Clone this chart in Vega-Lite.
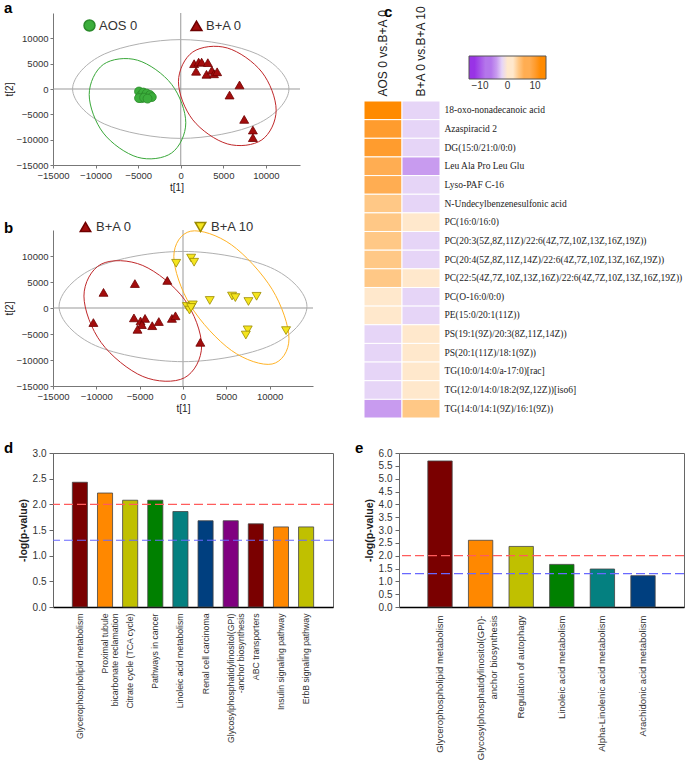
{
  "$schema": "https://vega.github.io/schema/vega-lite/v6.json",
  "background": "white",
  "padding": {"left": 3, "top": 0, "right": 0, "bottom": 0},
  "config": {
    "font": "Liberation Sans",
    "view": {"stroke": null},
    "axis": {"labelFont": "Liberation Sans", "titleFont": "Liberation Sans", "grid": false, "labelColor": "#333", "titleColor": "#222", "labelOverlap": false, "labelFlush": false},
    "title": {"anchor": "start", "frame": "group", "fontSize": 15, "fontWeight": "bold", "font": "Liberation Sans", "color": "#000", "baseline": "alphabetic"}
  },
  "spacing": 21,
  "resolve": {"scale": {"color": "independent", "fill": "independent", "shape": "independent", "stroke": "independent"}, "legend": {"color": "independent", "fill": "independent", "shape": "independent", "stroke": "independent"}},
  "vconcat": [
    {
      "spacing": 49,
      "resolve": {"scale": {"color": "independent", "fill": "independent", "shape": "independent", "stroke": "independent"}, "legend": {"color": "independent", "fill": "independent", "shape": "independent", "stroke": "independent"}},
      "hconcat": [
        {
          "spacing": 27,
          "resolve": {"scale": {"color": "independent", "fill": "independent", "shape": "independent", "stroke": "independent"}, "legend": {"color": "independent", "fill": "independent", "shape": "independent", "stroke": "independent"}},
          "vconcat": [
            {
              "width": 247, "height": 152,
              "title": {"text": "a", "dx": -49, "dy": 5, "offset": 2},
              "layer": [
                {
                  "data": {"values": [{"t1": 0}]},
                  "mark": {"type": "rule", "color": "#999", "strokeWidth": 1},
                  "encoding": {"x": {"field": "t1", "type": "quantitative", "title": "t[1]", "scale": {"domain": [-15000, 14000], "nice": false, "zero": false},
                    "axis": {"values": [-15000, -10000, -5000, 0, 5000, 10000], "format": "d", "title": "t[1]", "labelFontSize": 9.5, "labelOverlap": false, "labelFlush": false, "titleFontSize": 10, "titleFontWeight": "normal", "tickSize": 3, "labelPadding": 2, "titlePadding": 3, "domainColor": "#777", "tickColor": "#777"}}}
                },
                {
                  "data": {"values": [{"t2": 0}]},
                  "mark": {"type": "rule", "color": "#999", "strokeWidth": 1},
                  "encoding": {"y": {"field": "t2", "type": "quantitative", "title": "t[2]", "scale": {"domain": [-15000, 15000], "nice": false, "zero": false},
                    "axis": {"values": [-15000, -10000, -5000, 0, 5000, 10000], "format": "d", "title": "t[2]", "labelFontSize": 9.5, "labelOverlap": false, "labelFlush": false, "titleFontSize": 10, "titleFontWeight": "normal", "tickSize": 3, "labelPadding": 2, "titlePadding": 2, "domainColor": "#777", "tickColor": "#777"}}}
                },
                {
                  "data": {"values": [
                    {"t1": 12700, "t2": 0, "i": 0}, {"t1": 8980, "t2": 6894, "i": 1}, {"t1": 0, "t2": 9750, "i": 2}, {"t1": -8980, "t2": 6894, "i": 3},
                    {"t1": -12700, "t2": 0, "i": 4}, {"t1": -8980, "t2": -6894, "i": 5}, {"t1": 0, "t2": -9750, "i": 6}, {"t1": 8980, "t2": -6894, "i": 7}
                  ]},
                  "mark": {"type": "line", "interpolate": "cardinal-closed", "color": "#b0b0b0", "strokeWidth": 1},
                  "encoding": {
                    "x": {"field": "t1", "type": "quantitative", "title": "t[1]", "axis": {"values": [-15000, -10000, -5000, 0, 5000, 10000], "format": "d", "title": "t[1]", "labelFontSize": 9.5, "labelOverlap": false, "labelFlush": false, "titleFontSize": 10, "titleFontWeight": "normal", "tickSize": 3, "labelPadding": 2, "titlePadding": 3, "domainColor": "#777", "tickColor": "#777"}},
                    "y": {"field": "t2", "type": "quantitative", "title": "t[2]", "axis": {"values": [-15000, -10000, -5000, 0, 5000, 10000], "format": "d", "title": "t[2]", "labelFontSize": 9.5, "labelOverlap": false, "labelFlush": false, "titleFontSize": 10, "titleFontWeight": "normal", "tickSize": 3, "labelPadding": 2, "titlePadding": 2, "domainColor": "#777", "tickColor": "#777"}},
                    "order": {"field": "i", "type": "quantitative"}
                  }
                },
                {
                  "data": {"values": [
                    {"t1": 590, "t2": -6670, "i": 0}, {"t1": -1071, "t2": 915, "i": 1}, {"t1": -5080, "t2": 5685, "i": 2}, {"t1": -9089, "t2": 4847, "i": 3},
                    {"t1": -10750, "t2": -1110, "i": 4}, {"t1": -9089, "t2": -8695, "i": 5}, {"t1": -5080, "t2": -13465, "i": 6}, {"t1": -1071, "t2": -12627, "i": 7}
                  ]},
                  "mark": {"type": "line", "interpolate": "cardinal-closed", "color": "#3aa83a", "strokeWidth": 1},
                  "encoding": {
                    "x": {"field": "t1", "type": "quantitative", "title": "t[1]", "axis": {"values": [-15000, -10000, -5000, 0, 5000, 10000], "format": "d", "title": "t[1]", "labelFontSize": 9.5, "labelOverlap": false, "labelFlush": false, "titleFontSize": 10, "titleFontWeight": "normal", "tickSize": 3, "labelPadding": 2, "titlePadding": 3, "domainColor": "#777", "tickColor": "#777"}},
                    "y": {"field": "t2", "type": "quantitative", "title": "t[2]", "axis": {"values": [-15000, -10000, -5000, 0, 5000, 10000], "format": "d", "title": "t[2]", "labelFontSize": 9.5, "labelOverlap": false, "labelFlush": false, "titleFontSize": 10, "titleFontWeight": "normal", "tickSize": 3, "labelPadding": 2, "titlePadding": 2, "domainColor": "#777", "tickColor": "#777"}},
                    "order": {"field": "i", "type": "quantitative"}
                  }
                },
                {
                  "data": {"values": [
                    {"t1": 11200, "t2": -4170, "i": 0}, {"t1": 9520, "t2": 3342, "i": 1}, {"t1": 5465, "t2": 8094, "i": 2}, {"t1": 1410, "t2": 7302, "i": 3},
                    {"t1": -270, "t2": 1430, "i": 4}, {"t1": 1410, "t2": -6082, "i": 5}, {"t1": 5465, "t2": -10834, "i": 6}, {"t1": 9520, "t2": -10042, "i": 7}
                  ]},
                  "mark": {"type": "line", "interpolate": "cardinal-closed", "color": "#c0282a", "strokeWidth": 1},
                  "encoding": {
                    "x": {"field": "t1", "type": "quantitative", "title": "t[1]", "axis": {"values": [-15000, -10000, -5000, 0, 5000, 10000], "format": "d", "title": "t[1]", "labelFontSize": 9.5, "labelOverlap": false, "labelFlush": false, "titleFontSize": 10, "titleFontWeight": "normal", "tickSize": 3, "labelPadding": 2, "titlePadding": 3, "domainColor": "#777", "tickColor": "#777"}},
                    "y": {"field": "t2", "type": "quantitative", "title": "t[2]", "axis": {"values": [-15000, -10000, -5000, 0, 5000, 10000], "format": "d", "title": "t[2]", "labelFontSize": 9.5, "labelOverlap": false, "labelFlush": false, "titleFontSize": 10, "titleFontWeight": "normal", "tickSize": 3, "labelPadding": 2, "titlePadding": 2, "domainColor": "#777", "tickColor": "#777"}},
                    "order": {"field": "i", "type": "quantitative"}
                  }
                },
                {
                  "data": {"values": [
                    {"group": "AOS 0", "t1": -4900, "t2": -500}, {"group": "AOS 0", "t1": -4700, "t2": -1300}, {"group": "AOS 0", "t1": -4600, "t2": -1800},
                    {"group": "AOS 0", "t1": -4400, "t2": -700}, {"group": "AOS 0", "t1": -4200, "t2": -1400}, {"group": "AOS 0", "t1": -4000, "t2": -900},
                    {"group": "AOS 0", "t1": -3800, "t2": -1700}, {"group": "AOS 0", "t1": -3600, "t2": -1200}, {"group": "AOS 0", "t1": -3400, "t2": -1600},
                    {"group": "AOS 0", "t1": -4900, "t2": -1800}, {"group": "AOS 0", "t1": -4300, "t2": -1700}, {"group": "AOS 0", "t1": -3900, "t2": -1900},
                    {"group": "B+A 0", "t1": 1570, "t2": 5000}, {"group": "B+A 0", "t1": 2100, "t2": 5300}, {"group": "B+A 0", "t1": 2450, "t2": 5300},
                    {"group": "B+A 0", "t1": 1800, "t2": 3500}, {"group": "B+A 0", "t1": 3180, "t2": 5200}, {"group": "B+A 0", "t1": 3020, "t2": 2900},
                    {"group": "B+A 0", "t1": 3650, "t2": 3700}, {"group": "B+A 0", "t1": 3900, "t2": 3000}, {"group": "B+A 0", "t1": 4270, "t2": 3400},
                    {"group": "B+A 0", "t1": 5730, "t2": -1200}, {"group": "B+A 0", "t1": 6900, "t2": 800}, {"group": "B+A 0", "t1": 7450, "t2": -6000},
                    {"group": "B+A 0", "t1": 8470, "t2": -8100}, {"group": "B+A 0", "t1": 8470, "t2": -9600}
                  ]},
                  "mark": {"type": "point", "filled": true, "size": 80, "strokeWidth": 0.8, "opacity": 1},
                  "encoding": {
                    "x": {"field": "t1", "type": "quantitative", "title": "t[1]", "scale": {"domain": [-15000, 14000], "nice": false, "zero": false},
                      "axis": {"values": [-15000, -10000, -5000, 0, 5000, 10000], "format": "d", "title": "t[1]", "labelFontSize": 9.5, "labelOverlap": false, "labelFlush": false, "titleFontSize": 10, "titleFontWeight": "normal", "tickSize": 3, "labelPadding": 2, "titlePadding": 3, "domainColor": "#777", "tickColor": "#777"}},
                    "y": {"field": "t2", "type": "quantitative", "title": "t[2]", "scale": {"domain": [-15000, 15000], "nice": false, "zero": false},
                      "axis": {"values": [-15000, -10000, -5000, 0, 5000, 10000], "format": "d", "title": "t[2]", "labelFontSize": 9.5, "labelOverlap": false, "labelFlush": false, "titleFontSize": 10, "titleFontWeight": "normal", "tickSize": 3, "labelPadding": 2, "titlePadding": 2, "domainColor": "#777", "tickColor": "#777"}},
                    "shape": {"field": "group", "type": "nominal", "scale": {"domain": ["AOS 0", "B+A 0"], "range": ["circle", "triangle-up"]},
                      "legend": {"orient": "none", "legendX": 30, "legendY": 6, "direction": "horizontal", "title": null, "labelFontSize": 13, "labelColor": "#333", "symbolSize": 120, "columnPadding": 50, "labelOffset": 3}},
                    "fill": {"field": "group", "type": "nominal", "scale": {"domain": ["AOS 0", "B+A 0"], "range": ["#3cae3c", "#a30d0d"]},
                      "legend": {"orient": "none", "legendX": 30, "legendY": 6, "direction": "horizontal", "title": null, "labelFontSize": 13, "labelColor": "#333", "symbolSize": 120, "columnPadding": 50, "labelOffset": 3}},
                    "stroke": {"field": "group", "type": "nominal", "scale": {"domain": ["AOS 0", "B+A 0"], "range": ["#2a8a2a", "#6e0000"]}, "legend": null}
                  }
                }
              ]
            },
            {
              "width": 260, "height": 156,
              "title": {"text": "b", "dx": -49, "dy": 20.5, "offset": 5},
              "layer": [
                {
                  "data": {"values": [{"t1": 0}]},
                  "mark": {"type": "rule", "color": "#999", "strokeWidth": 1},
                  "encoding": {"x": {"field": "t1", "type": "quantitative", "title": "t[1]", "scale": {"domain": [-15000, 15000], "nice": false, "zero": false},
                    "axis": {"values": [-15000, -10000, -5000, 0, 5000, 10000], "format": "d", "title": "t[1]", "labelFontSize": 9.5, "labelOverlap": false, "labelFlush": false, "titleFontSize": 10, "titleFontWeight": "normal", "tickSize": 3, "labelPadding": 2, "titlePadding": 3, "domainColor": "#777", "tickColor": "#777"}}}
                },
                {
                  "data": {"values": [{"t2": 0}]},
                  "mark": {"type": "rule", "color": "#999", "strokeWidth": 1},
                  "encoding": {"y": {"field": "t2", "type": "quantitative", "title": "t[2]", "scale": {"domain": [-15000, 15000], "nice": false, "zero": false},
                    "axis": {"values": [-15000, -10000, -5000, 0, 5000, 10000], "format": "d", "title": "t[2]", "labelFontSize": 9.5, "labelOverlap": false, "labelFlush": false, "titleFontSize": 10, "titleFontWeight": "normal", "tickSize": 3, "labelPadding": 2, "titlePadding": 2, "domainColor": "#777", "tickColor": "#777"}}}
                },
                {
                  "data": {"values": [
                    {"t1": 14300, "t2": 280, "i": 0}, {"t1": 10112, "t2": 7775, "i": 1}, {"t1": 0, "t2": 10880, "i": 2}, {"t1": -10112, "t2": 7775, "i": 3},
                    {"t1": -14300, "t2": 280, "i": 4}, {"t1": -10112, "t2": -7215, "i": 5}, {"t1": 0, "t2": -10320, "i": 6}, {"t1": 10112, "t2": -7215, "i": 7}
                  ]},
                  "mark": {"type": "line", "interpolate": "cardinal-closed", "color": "#b0b0b0", "strokeWidth": 1},
                  "encoding": {
                    "x": {"field": "t1", "type": "quantitative", "title": "t[1]", "axis": {"values": [-15000, -10000, -5000, 0, 5000, 10000], "format": "d", "title": "t[1]", "labelFontSize": 9.5, "labelOverlap": false, "labelFlush": false, "titleFontSize": 10, "titleFontWeight": "normal", "tickSize": 3, "labelPadding": 2, "titlePadding": 3, "domainColor": "#777", "tickColor": "#777"}},
                    "y": {"field": "t2", "type": "quantitative", "title": "t[2]", "axis": {"values": [-15000, -10000, -5000, 0, 5000, 10000], "format": "d", "title": "t[2]", "labelFontSize": 9.5, "labelOverlap": false, "labelFlush": false, "titleFontSize": 10, "titleFontWeight": "normal", "tickSize": 3, "labelPadding": 2, "titlePadding": 2, "domainColor": "#777", "tickColor": "#777"}},
                    "order": {"field": "i", "type": "quantitative"}
                  }
                },
                {
                  "data": {"values": [
                    {"t1": 2150, "t2": -7285, "i": 0}, {"t1": 161, "t2": 1662, "i": 1}, {"t1": -4640, "t2": 8174, "i": 2}, {"t1": -9441, "t2": 8436, "i": 3},
                    {"t1": -11430, "t2": 2295, "i": 4}, {"t1": -9441, "t2": -6652, "i": 5}, {"t1": -4640, "t2": -13164, "i": 6}, {"t1": 161, "t2": -13426, "i": 7}
                  ]},
                  "mark": {"type": "line", "interpolate": "cardinal-closed", "color": "#c0282a", "strokeWidth": 1},
                  "encoding": {
                    "x": {"field": "t1", "type": "quantitative", "title": "t[1]", "axis": {"values": [-15000, -10000, -5000, 0, 5000, 10000], "format": "d", "title": "t[1]", "labelFontSize": 9.5, "labelOverlap": false, "labelFlush": false, "titleFontSize": 10, "titleFontWeight": "normal", "tickSize": 3, "labelPadding": 2, "titlePadding": 3, "domainColor": "#777", "tickColor": "#777"}},
                    "y": {"field": "t2", "type": "quantitative", "title": "t[2]", "axis": {"values": [-15000, -10000, -5000, 0, 5000, 10000], "format": "d", "title": "t[2]", "labelFontSize": 9.5, "labelOverlap": false, "labelFlush": false, "titleFontSize": 10, "titleFontWeight": "normal", "tickSize": 3, "labelPadding": 2, "titlePadding": 2, "domainColor": "#777", "tickColor": "#777"}},
                    "order": {"field": "i", "type": "quantitative"}
                  }
                },
                {
                  "data": {"values": [
                    {"t1": 12230, "t2": -5900, "i": 0}, {"t1": 10284, "t2": 3598, "i": 1}, {"t1": 5585, "t2": 12160, "i": 2}, {"t1": 886, "t2": 14770, "i": 3},
                    {"t1": -1060, "t2": 9900, "i": 4}, {"t1": 886, "t2": 402, "i": 5}, {"t1": 5585, "t2": -8160, "i": 6}, {"t1": 10284, "t2": -10770, "i": 7}
                  ]},
                  "mark": {"type": "line", "interpolate": "cardinal-closed", "color": "#ffb326", "strokeWidth": 1},
                  "encoding": {
                    "x": {"field": "t1", "type": "quantitative", "title": "t[1]", "axis": {"values": [-15000, -10000, -5000, 0, 5000, 10000], "format": "d", "title": "t[1]", "labelFontSize": 9.5, "labelOverlap": false, "labelFlush": false, "titleFontSize": 10, "titleFontWeight": "normal", "tickSize": 3, "labelPadding": 2, "titlePadding": 3, "domainColor": "#777", "tickColor": "#777"}},
                    "y": {"field": "t2", "type": "quantitative", "title": "t[2]", "axis": {"values": [-15000, -10000, -5000, 0, 5000, 10000], "format": "d", "title": "t[2]", "labelFontSize": 9.5, "labelOverlap": false, "labelFlush": false, "titleFontSize": 10, "titleFontWeight": "normal", "tickSize": 3, "labelPadding": 2, "titlePadding": 2, "domainColor": "#777", "tickColor": "#777"}},
                    "order": {"field": "i", "type": "quantitative"}
                  }
                },
                {
                  "data": {"values": [
                    {"group": "B+A 0", "t1": -9170, "t2": 3000}, {"group": "B+A 0", "t1": -10340, "t2": -2800}, {"group": "B+A 0", "t1": -5550, "t2": 4700},
                    {"group": "B+A 0", "t1": -1810, "t2": 5300}, {"group": "B+A 0", "t1": -5660, "t2": -1900}, {"group": "B+A 0", "t1": -4900, "t2": -2500},
                    {"group": "B+A 0", "t1": -4380, "t2": -2000}, {"group": "B+A 0", "t1": -4750, "t2": -3200}, {"group": "B+A 0", "t1": -5250, "t2": -4100},
                    {"group": "B+A 0", "t1": -3550, "t2": -3400}, {"group": "B+A 0", "t1": -2790, "t2": -2600}, {"group": "B+A 0", "t1": -1280, "t2": -2000},
                    {"group": "B+A 0", "t1": -870, "t2": -1500}, {"group": "B+A 0", "t1": 2000, "t2": -6600},
                    {"group": "B+A 10", "t1": -790, "t2": 8600}, {"group": "B+A 10", "t1": 940, "t2": 9600}, {"group": "B+A 10", "t1": 1280, "t2": 8800},
                    {"group": "B+A 10", "t1": 450, "t2": 300}, {"group": "B+A 10", "t1": 750, "t2": -400}, {"group": "B+A 10", "t1": 1130, "t2": 600},
                    {"group": "B+A 10", "t1": 940, "t2": 100}, {"group": "B+A 10", "t1": 3090, "t2": 1450}, {"group": "B+A 10", "t1": 5660, "t2": 2300},
                    {"group": "B+A 10", "t1": 6040, "t2": 2000}, {"group": "B+A 10", "t1": 7550, "t2": 1250}, {"group": "B+A 10", "t1": 8490, "t2": 2250},
                    {"group": "B+A 10", "t1": 7470, "t2": -4200}, {"group": "B+A 10", "t1": 7250, "t2": -5200}, {"group": "B+A 10", "t1": 11890, "t2": -4350}
                  ]},
                  "mark": {"type": "point", "filled": true, "size": 80, "strokeWidth": 0.8, "opacity": 1},
                  "encoding": {
                    "x": {"field": "t1", "type": "quantitative", "title": "t[1]", "scale": {"domain": [-15000, 15000], "nice": false, "zero": false},
                      "axis": {"values": [-15000, -10000, -5000, 0, 5000, 10000], "format": "d", "title": "t[1]", "labelFontSize": 9.5, "labelOverlap": false, "labelFlush": false, "titleFontSize": 10, "titleFontWeight": "normal", "tickSize": 3, "labelPadding": 2, "titlePadding": 3, "domainColor": "#777", "tickColor": "#777"}},
                    "y": {"field": "t2", "type": "quantitative", "title": "t[2]", "scale": {"domain": [-15000, 15000], "nice": false, "zero": false},
                      "axis": {"values": [-15000, -10000, -5000, 0, 5000, 10000], "format": "d", "title": "t[2]", "labelFontSize": 9.5, "labelOverlap": false, "labelFlush": false, "titleFontSize": 10, "titleFontWeight": "normal", "tickSize": 3, "labelPadding": 2, "titlePadding": 2, "domainColor": "#777", "tickColor": "#777"}},
                    "shape": {"field": "group", "type": "nominal", "scale": {"domain": ["B+A 0", "B+A 10"], "range": ["triangle-up", "triangle-down"]},
                      "legend": {"orient": "none", "legendX": 26, "legendY": -10, "direction": "horizontal", "title": null, "labelFontSize": 13, "labelColor": "#333", "symbolSize": 110, "columnPadding": 60, "labelOffset": 4}},
                    "fill": {"field": "group", "type": "nominal", "scale": {"domain": ["B+A 0", "B+A 10"], "range": ["#a30d0d", "#f5e51e"]},
                      "legend": {"orient": "none", "legendX": 26, "legendY": -10, "direction": "horizontal", "title": null, "labelFontSize": 13, "labelColor": "#333", "symbolSize": 110, "columnPadding": 60, "labelOffset": 4}},
                    "stroke": {"field": "group", "type": "nominal", "scale": {"domain": ["B+A 0", "B+A 10"], "range": ["#6e0000", "#9a8a00"]}, "legend": null}
                  }
                }
              ]
            }
          ]
        },
        {
          "width": 76, "height": 405,
          "title": {"text": "c", "dx": 20, "dy": 17, "offset": 2},
          "data": {"values": [
            {"metabolite": "18-oxo-nonadecanoic acid", "comparison": "AOS 0 vs.B+A 0", "value": 12.5},
            {"metabolite": "18-oxo-nonadecanoic acid", "comparison": "B+A 0 vs.B+A 10", "value": -1.5},
            {"metabolite": "Azaspiracid 2", "comparison": "AOS 0 vs.B+A 0", "value": 10},
            {"metabolite": "Azaspiracid 2", "comparison": "B+A 0 vs.B+A 10", "value": -1.5},
            {"metabolite": "DG(15:0/21:0/0:0)", "comparison": "AOS 0 vs.B+A 0", "value": 10},
            {"metabolite": "DG(15:0/21:0/0:0)", "comparison": "B+A 0 vs.B+A 10", "value": -1.5},
            {"metabolite": "Leu Ala Pro Leu Glu", "comparison": "AOS 0 vs.B+A 0", "value": 7},
            {"metabolite": "Leu Ala Pro Leu Glu", "comparison": "B+A 0 vs.B+A 10", "value": -4.5},
            {"metabolite": "Lyso-PAF C-16", "comparison": "AOS 0 vs.B+A 0", "value": 7},
            {"metabolite": "Lyso-PAF C-16", "comparison": "B+A 0 vs.B+A 10", "value": -1.5},
            {"metabolite": "N-Undecylbenzenesulfonic acid", "comparison": "AOS 0 vs.B+A 0", "value": 4.5},
            {"metabolite": "N-Undecylbenzenesulfonic acid", "comparison": "B+A 0 vs.B+A 10", "value": -1.5},
            {"metabolite": "PC(16:0/16:0)", "comparison": "AOS 0 vs.B+A 0", "value": 4.5},
            {"metabolite": "PC(16:0/16:0)", "comparison": "B+A 0 vs.B+A 10", "value": 1.5},
            {"metabolite": "PC(20:3(5Z,8Z,11Z)/22:6(4Z,7Z,10Z,13Z,16Z,19Z))", "comparison": "AOS 0 vs.B+A 0", "value": 4.5},
            {"metabolite": "PC(20:3(5Z,8Z,11Z)/22:6(4Z,7Z,10Z,13Z,16Z,19Z))", "comparison": "B+A 0 vs.B+A 10", "value": -1.5},
            {"metabolite": "PC(20:4(5Z,8Z,11Z,14Z)/22:6(4Z,7Z,10Z,13Z,16Z,19Z))", "comparison": "AOS 0 vs.B+A 0", "value": 4.5},
            {"metabolite": "PC(20:4(5Z,8Z,11Z,14Z)/22:6(4Z,7Z,10Z,13Z,16Z,19Z))", "comparison": "B+A 0 vs.B+A 10", "value": -1.5},
            {"metabolite": "PC(22:5(4Z,7Z,10Z,13Z,16Z)/22:6(4Z,7Z,10Z,13Z,16Z,19Z))", "comparison": "AOS 0 vs.B+A 0", "value": 4.5},
            {"metabolite": "PC(22:5(4Z,7Z,10Z,13Z,16Z)/22:6(4Z,7Z,10Z,13Z,16Z,19Z))", "comparison": "B+A 0 vs.B+A 10", "value": 1.5},
            {"metabolite": "PC(O-16:0/0:0)", "comparison": "AOS 0 vs.B+A 0", "value": 1.5},
            {"metabolite": "PC(O-16:0/0:0)", "comparison": "B+A 0 vs.B+A 10", "value": -1.5},
            {"metabolite": "PE(15:0/20:1(11Z))", "comparison": "AOS 0 vs.B+A 0", "value": 1.5},
            {"metabolite": "PE(15:0/20:1(11Z))", "comparison": "B+A 0 vs.B+A 10", "value": -1.5},
            {"metabolite": "PS(19:1(9Z)/20:3(8Z,11Z,14Z))", "comparison": "AOS 0 vs.B+A 0", "value": -1.5},
            {"metabolite": "PS(19:1(9Z)/20:3(8Z,11Z,14Z))", "comparison": "B+A 0 vs.B+A 10", "value": 1.5},
            {"metabolite": "PS(20:1(11Z)/18:1(9Z))", "comparison": "AOS 0 vs.B+A 0", "value": -1.5},
            {"metabolite": "PS(20:1(11Z)/18:1(9Z))", "comparison": "B+A 0 vs.B+A 10", "value": 1.5},
            {"metabolite": "TG(10:0/14:0/a-17:0)[rac]", "comparison": "AOS 0 vs.B+A 0", "value": -1.5},
            {"metabolite": "TG(10:0/14:0/a-17:0)[rac]", "comparison": "B+A 0 vs.B+A 10", "value": 1.5},
            {"metabolite": "TG(12:0/14:0/18:2(9Z,12Z))[iso6]", "comparison": "AOS 0 vs.B+A 0", "value": -1.5},
            {"metabolite": "TG(12:0/14:0/18:2(9Z,12Z))[iso6]", "comparison": "B+A 0 vs.B+A 10", "value": 1.5},
            {"metabolite": "TG(14:0/14:1(9Z)/16:1(9Z))", "comparison": "AOS 0 vs.B+A 0", "value": -4.5},
            {"metabolite": "TG(14:0/14:1(9Z)/16:1(9Z))", "comparison": "B+A 0 vs.B+A 10", "value": 4.5}
          ]},
          "mark": {"type": "rect", "stroke": "white", "strokeWidth": 1},
          "encoding": {
            "x": {"field": "comparison", "type": "nominal", "sort": null, "scale": {"paddingInner": 0, "paddingOuter": 0},
              "axis": {"orient": "top", "offset": -88, "labelAngle": -90, "labelFontSize": 12, "labelColor": "#222", "ticks": false, "domain": false, "labelPadding": 5, "title": null, "labelLimit": 200}},
            "y": {"field": "metabolite", "type": "nominal", "sort": null, "scale": {"paddingInner": 0, "paddingOuter": 0, "range": [88, 405]},
              "axis": {"orient": "right", "ticks": false, "domain": false, "labelFont": "Liberation Serif", "labelFontSize": 9.5, "labelColor": "#222", "labelPadding": 4, "title": null, "labelLimit": 0}},
            "color": {"field": "value", "type": "quantitative",
              "scale": {"type": "linear", "zero": false, "nice": false,
                "domain": [-14, -11.2, -11.2, -8.4, -8.4, -5.6, -5.6, -2.8, -2.8, 0, 0, 2.8, 2.8, 5.6, 5.6, 8.4, 8.4, 11.2, 11.2, 14],
                "range": ["#9933e6", "#9933e6", "#a654e8", "#a654e8", "#b476eb", "#b476eb", "#c89bef", "#c89bef", "#e6d5f7", "#e6d5f7", "#ffe8cc", "#ffe8cc", "#ffc886", "#ffc886", "#ffad52", "#ffad52", "#ff9c2e", "#ff9c2e", "#ff8a00", "#ff8a00"]},
              "legend": {"orient": "none", "legendX": 105, "legendY": 43, "direction": "horizontal", "title": null, "gradientLength": 77, "gradientThickness": 23, "values": [-10, 0, 10], "labelFontSize": 10, "labelColor": "#333", "gradientStrokeColor": "#555", "gradientStrokeWidth": 1}}
          }
        }
      ]
    },
    {
      "spacing": 19,
      "resolve": {"scale": {"color": "independent", "fill": "independent", "shape": "independent", "stroke": "independent"}, "legend": {"color": "independent", "fill": "independent", "shape": "independent", "stroke": "independent"}},
      "hconcat": [
        {
          "width": 280, "height": 154,
          "view": {"stroke": "#666"},
          "title": {"text": "d", "dx": -49, "dy": 10, "offset": 2},
          "layer": [
            {
              "data": {"values": [
                {"pathway": "Glycerophospholipid metabolism", "p": 2.43},
                {"pathway": "Proximal tubule|bicarbonate reclamation", "p": 2.22},
                {"pathway": "Citrate cycle (TCA cycle)", "p": 2.08},
                {"pathway": "Pathways in cancer", "p": 2.08},
                {"pathway": "Linoleic acid metabolism", "p": 1.86},
                {"pathway": "Renal cell carcinoma", "p": 1.68},
                {"pathway": "Glycosylphosphatidylinositol(GPI)|-anchor biosynthesis", "p": 1.68},
                {"pathway": "ABC transporters", "p": 1.62},
                {"pathway": "Insulin signaling pathway", "p": 1.56},
                {"pathway": "ErbB signaling pathway", "p": 1.56}
              ]},
              "mark": {"type": "bar", "stroke": "#444", "strokeWidth": 0.8},
              "encoding": {
                "x": {"field": "pathway", "type": "nominal", "sort": null, "scale": {"paddingInner": 0.4, "paddingOuter": 0.77},
                  "axis": {"title": null, "labelAngle": -90, "labelFontSize": 8.7, "labelLineHeight": 10, "labelExpr": "split(datum.label, '|')", "ticks": false, "domainColor": "#000", "domainWidth": 1.5, "labelPadding": 6, "labelColor": "#333", "labelLimit": 300}},
                "y": {"field": "p", "type": "quantitative", "scale": {"domain": [0, 3], "nice": false},
                  "axis": {"values": [0, 0.5, 1, 1.5, 2, 2.5, 3], "format": ".1f", "labelOverlap": false, "title": "-log(p-value)", "titleFontWeight": "bold", "titleFontSize": 10.5, "labelFontSize": 10, "tickSize": 4, "labelPadding": 3, "domainColor": "#666", "tickColor": "#666", "titlePadding": 4}},
                "color": {"field": "pathway", "type": "nominal", "sort": null,
                  "scale": {"domain": ["Glycerophospholipid metabolism", "Proximal tubule|bicarbonate reclamation", "Citrate cycle (TCA cycle)", "Pathways in cancer", "Linoleic acid metabolism", "Renal cell carcinoma", "Glycosylphosphatidylinositol(GPI)|-anchor biosynthesis", "ABC transporters", "Insulin signaling pathway", "ErbB signaling pathway"],
                    "range": ["#7a0000", "#ff8800", "#c0c000", "#008000", "#048080", "#003f7f", "#800080", "#7a0000", "#ff8800", "#c0c000"]},
                  "legend": null}
              }
            },
            {
              "data": {"values": [{"p": 2.0}]},
              "mark": {"type": "rule", "color": "#ff5c5c", "strokeDash": [9, 4], "strokeWidth": 1.2},
              "encoding": {"y": {"field": "p", "type": "quantitative", "axis": {"values": [0, 0.5, 1, 1.5, 2, 2.5, 3], "format": ".1f", "labelOverlap": false, "title": "-log(p-value)", "titleFontWeight": "bold", "titleFontSize": 10.5, "labelFontSize": 10, "tickSize": 4, "labelPadding": 3, "domainColor": "#666", "tickColor": "#666", "titlePadding": 4}}}
            },
            {
              "data": {"values": [{"p": 1.3}]},
              "mark": {"type": "rule", "color": "#6868ff", "strokeDash": [9, 4], "strokeWidth": 1.2},
              "encoding": {"y": {"field": "p", "type": "quantitative", "axis": {"values": [0, 0.5, 1, 1.5, 2, 2.5, 3], "format": ".1f", "labelOverlap": false, "title": "-log(p-value)", "titleFontWeight": "bold", "titleFontSize": 10.5, "labelFontSize": 10, "tickSize": 4, "labelPadding": 3, "domainColor": "#666", "tickColor": "#666", "titlePadding": 4}}}
            }
          ]
        },
        {
          "width": 285, "height": 154,
          "view": {"stroke": "#666"},
          "title": {"text": "e", "dx": -44, "dy": 10, "offset": 2},
          "layer": [
            {
              "data": {"values": [
                {"pathway": "Glycerophospholipid metabolism", "p": 5.69},
                {"pathway": "Glycosylphosphatidylinositol(GPI)-|anchor biosynthesis", "p": 2.6},
                {"pathway": "Regulation of autophagy", "p": 2.36},
                {"pathway": "Linoleic acid metabolism", "p": 1.66},
                {"pathway": "Alpha-Linolenic acid metabolism", "p": 1.48},
                {"pathway": "Arachidonic acid metabolism", "p": 1.22}
              ]},
              "mark": {"type": "bar", "stroke": "#444", "strokeWidth": 0.8},
              "encoding": {
                "x": {"field": "pathway", "type": "nominal", "sort": null, "scale": {"paddingInner": 0.4, "paddingOuter": 0.71},
                  "axis": {"title": null, "labelAngle": -90, "labelFontSize": 9.5, "labelLineHeight": 13, "labelExpr": "split(datum.label, '|')", "ticks": false, "domainColor": "#000", "domainWidth": 1.5, "labelPadding": 8, "labelColor": "#333", "labelLimit": 300}},
                "y": {"field": "p", "type": "quantitative", "scale": {"domain": [0, 6], "nice": false},
                  "axis": {"values": [0, 0.5, 1, 1.5, 2, 2.5, 3, 3.5, 4, 4.5, 5, 5.5, 6], "format": ".1f", "labelOverlap": false, "title": "-log(p-value)", "titleFontWeight": "bold", "titleFontSize": 10.5, "labelFontSize": 10, "tickSize": 4, "labelPadding": 3, "domainColor": "#666", "tickColor": "#666", "titlePadding": 4}},
                "color": {"field": "pathway", "type": "nominal", "sort": null,
                  "scale": {"domain": ["Glycerophospholipid metabolism", "Glycosylphosphatidylinositol(GPI)-|anchor biosynthesis", "Regulation of autophagy", "Linoleic acid metabolism", "Alpha-Linolenic acid metabolism", "Arachidonic acid metabolism"],
                    "range": ["#7a0000", "#ff8800", "#c0c000", "#008000", "#048080", "#003f7f"]},
                  "legend": null}
              }
            },
            {
              "data": {"values": [{"p": 2.0}]},
              "mark": {"type": "rule", "color": "#ff5c5c", "strokeDash": [9, 4], "strokeWidth": 1.2},
              "encoding": {"y": {"field": "p", "type": "quantitative", "axis": {"values": [0, 0.5, 1, 1.5, 2, 2.5, 3, 3.5, 4, 4.5, 5, 5.5, 6], "format": ".1f", "labelOverlap": false, "title": "-log(p-value)", "titleFontWeight": "bold", "titleFontSize": 10.5, "labelFontSize": 10, "tickSize": 4, "labelPadding": 3, "domainColor": "#666", "tickColor": "#666", "titlePadding": 4}}}
            },
            {
              "data": {"values": [{"p": 1.3}]},
              "mark": {"type": "rule", "color": "#6868ff", "strokeDash": [9, 4], "strokeWidth": 1.2},
              "encoding": {"y": {"field": "p", "type": "quantitative", "axis": {"values": [0, 0.5, 1, 1.5, 2, 2.5, 3, 3.5, 4, 4.5, 5, 5.5, 6], "format": ".1f", "labelOverlap": false, "title": "-log(p-value)", "titleFontWeight": "bold", "titleFontSize": 10.5, "labelFontSize": 10, "tickSize": 4, "labelPadding": 3, "domainColor": "#666", "tickColor": "#666", "titlePadding": 4}}}
            }
          ]
        }
      ]
    }
  ]
}
